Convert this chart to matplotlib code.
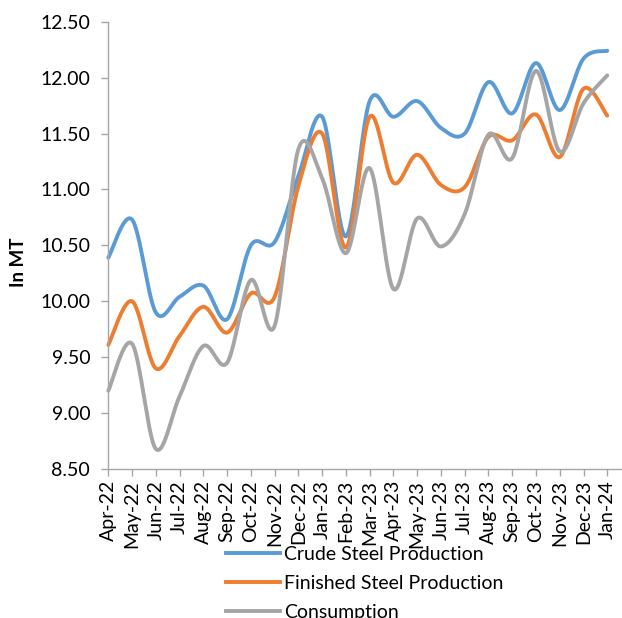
import numpy as np
import matplotlib
matplotlib.use("Agg")
import matplotlib.pyplot as plt
from matplotlib.lines import Line2D

plt.rcParams['font.family'] = ['Lato', 'DejaVu Sans']

months = ["Apr-22", "May-22", "Jun-22", "Jul-22", "Aug-22", "Sep-22", "Oct-22",
          "Nov-22", "Dec-22", "Jan-23", "Feb-23", "Mar-23", "Apr-23", "May-23",
          "Jun-23", "Jul-23", "Aug-23", "Sep-23", "Oct-23", "Nov-23", "Dec-23",
          "Jan-24"]

crude = [10.39, 10.73, 9.90, 10.04, 10.14, 9.84, 10.50, 10.53, 11.12, 11.65,
         10.58, 11.79, 11.65, 11.79, 11.55, 11.50, 11.96, 11.68, 12.13, 11.71,
         12.17, 12.24]
finished = [9.61, 10.00, 9.40, 9.69, 9.95, 9.72, 10.07, 10.04, 11.03, 11.50,
            10.48, 11.65, 11.06, 11.31, 11.04, 11.02, 11.47, 11.44, 11.67, 11.29,
            11.90, 11.66]
consumption = [9.20, 9.62, 8.68, 9.15, 9.60, 9.45, 10.19, 9.78, 11.36, 11.10,
               10.43, 11.19, 10.11, 10.74, 10.49, 10.78, 11.49, 11.28, 12.06, 11.34,
               11.77, 12.02]

series = [
    ("Crude Steel Production", crude, "#5B9BD5"),
    ("Finished Steel Production", finished, "#ED7D31"),
    ("Consumption", consumption, "#A5A5A5"),
]

yticks = [8.5, 9.0, 9.5, 10.0, 10.5, 11.0, 11.5, 12.0, 12.5]


def smooth(xs, ys, steps=30):
    """Catmull-Rom style Bezier smoothing through every point."""
    p = np.column_stack([xs, ys]).astype(float)
    n = len(p)
    ext = np.vstack([p[0], p, p[-1]])
    out = []
    t = np.linspace(0, 1, steps)[:, None]
    for i in range(n - 1):
        p0, p1, p2, p3 = ext[i], ext[i + 1], ext[i + 2], ext[i + 3]
        b1 = p1 + (p2 - p0) / 6.0
        b2 = p2 - (p3 - p1) / 6.0
        seg = ((1 - t) ** 3) * p1 + 3 * ((1 - t) ** 2) * t * b1 \
            + 3 * (1 - t) * t ** 2 * b2 + t ** 3 * p2
        out.append(seg if i == 0 else seg[1:])
    out = np.vstack(out)
    return out[:, 0], out[:, 1]


W, H = 622, 618
fig = plt.figure(figsize=(W / 100, H / 100), dpi=100)
left, right = 108.3, 622.0
top, bottom = 21.7, 469.0
ax = fig.add_axes([left / W, 1 - bottom / H, (right - left) / W, (bottom - top) / H])

x = np.arange(len(months))
for name, vals, color in series:
    sx, sy = smooth(x, vals)
    ax.plot(sx, sy, color=color, lw=2.8, solid_capstyle="round",
            solid_joinstyle="round", clip_on=False)

ax.set_xlim(0, (right - left) / 23.76)
ax.set_ylim(8.5, 12.5)
ax.set_yticks(yticks)
ax.set_yticklabels([f"{v:.2f}" for v in yticks])
ax.set_xticks(x)
ax.set_xticklabels(months, rotation=90)

for s in ["top", "right"]:
    ax.spines[s].set_visible(False)
for s in ["left", "bottom"]:
    ax.spines[s].set_color("#A6A6A6")
    ax.spines[s].set_linewidth(1.0)
ax.tick_params(axis="both", colors="#A6A6A6", labelcolor="#000000",
               labelsize=14, length=5, width=1.0, direction="out")
ax.tick_params(axis="y", pad=8)
ax.tick_params(axis="x", pad=3)

ax.set_ylabel("In MT", fontsize=13.5, fontweight="bold")
ax.yaxis.set_label_coords(-(left - 27) / (right - left), (bottom - 262) / (bottom - top))

handles = [Line2D([], [], color=c, lw=2.8) for _, _, c in series]
labels = [n for n, _, _ in series]
fig.legend(handles, labels, loc="upper left",
           bbox_to_anchor=(226 / W, 1 - 546 / H), frameon=False,
           fontsize=14, handlelength=2.8, handletextpad=0.2,
           labelspacing=0.62, borderpad=0, borderaxespad=0)

fig.savefig("out.png", dpi=100)
